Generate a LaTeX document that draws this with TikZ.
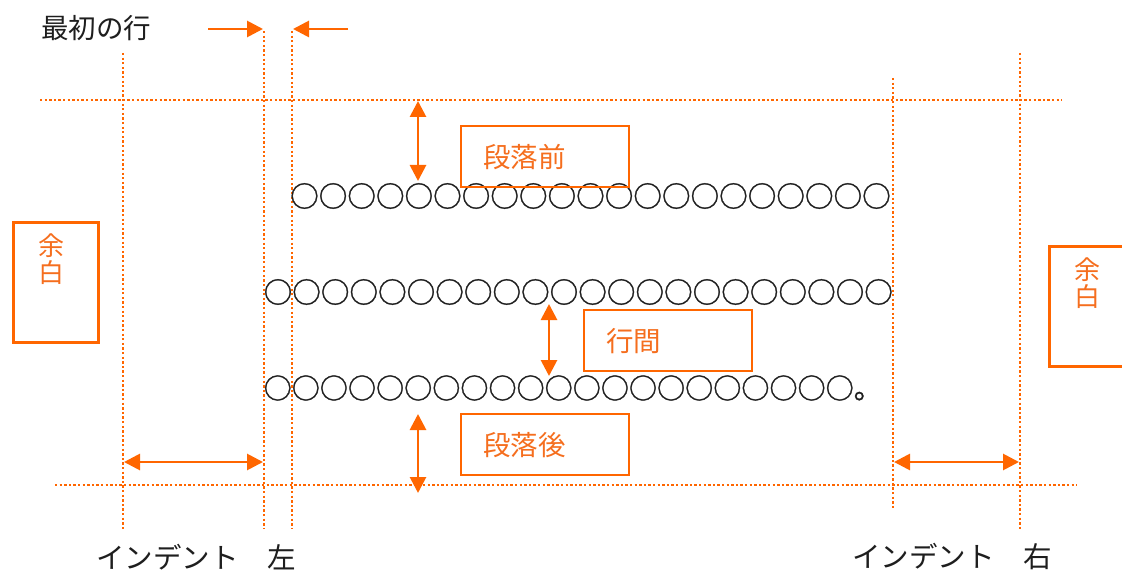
\documentclass[tikz,border=0pt]{standalone}
\usepackage{fontspec}
\newfontfamily\jp{Noto Sans CJK JP}
\newfontfamily\jpc[FakeBold=1.2]{Noto Sans CJK JP}
\usetikzlibrary{arrows.meta}
\definecolor{org}{RGB}{255,102,0}
\definecolor{orgtxt}{RGB}{245,110,30}
\definecolor{ink}{RGB}{30,30,30}
\begin{document}
\begin{tikzpicture}[x=1pt,y=-1pt,
  guide/.style={draw=org, line width=2.5pt, dash pattern=on 2.3pt off 2.3pt},
  dimarrow/.style={draw=org, line width=2.8pt, {Triangle[length=16pt,width=16pt]}-{Triangle[length=16pt,width=16pt]}},
  onearrow/.style={draw=org, line width=2.8pt, -{Triangle[length=16pt,width=16pt]}},
  tagbox/.style={draw=org, line width=2.2pt, anchor=north west, inner xsep=22pt, inner ysep=0pt,
     text width=124pt, minimum height=61pt, align=left, text=orgtxt,
     font=\jp\fontsize{27.5pt}{30pt}\selectfont},
  marginbox/.style={draw=org, line width=2.6pt, anchor=north west, inner sep=0pt},
  margintext/.style={text=orgtxt, align=center, inner sep=0pt, font=\jp\fontsize{26pt}{27pt}\selectfont},
  blacktext/.style={text=ink, inner sep=0pt, font=\jp\fontsize{27.5pt}{30pt}\selectfont},
  circrow/.style={text=ink, inner sep=0pt, anchor=west, font=\jpc\fontsize{28.6pt}{30pt}\selectfont},
]
\useasboundingbox (0,0) rectangle (1122,572);

% guide coordinates
\coordinate (v1t) at (123,53);   \coordinate (v1b) at (123,530);
\coordinate (v2t) at (264,31);   \coordinate (v2b) at (264,528);
\coordinate (v3t) at (292,31);   \coordinate (v3b) at (292,528);
\coordinate (v4t) at (893,78);   \coordinate (v4b) at (893,509);
\coordinate (v5t) at (1020,53);  \coordinate (v5b) at (1020,530);
\coordinate (h1l) at (40,100);   \coordinate (h1r) at (1062,100);
\coordinate (h2l) at (55,485);   \coordinate (h2r) at (1077,485);

\draw[guide] (v1t) -- (v1b);
\draw[guide] (v2t) -- (v2b);
\draw[guide] (v3t) -- (v3b);
\draw[guide] (v4t) -- (v4b);
\draw[guide] (v5t) -- (v5b);
\draw[guide] (h1l) -- (h1r);
\draw[guide] (h2l) -- (h2r);

% first line label and arrows
\node[blacktext, anchor=west] (first) at (41,28) {最初の行};
\coordinate (fa1s) at (208,29); \coordinate (fa1e) at (263,29);
\coordinate (fa2s) at (348,29); \coordinate (fa2e) at (293,29);
\draw[onearrow] (fa1s) -- (fa1e);
\draw[onearrow] (fa2s) -- (fa2e);

% text rows
\node[circrow] (row1) at (290,196) {○○○○○○○○○○○○○○○○○○○○○};
\node[circrow] (row2) at (263.5,292) {○○○○○○○○○○○○○○○○○○○○○○};
\node[circrow, font=\jpc\fontsize{28.1pt}{30pt}\selectfont] (row3) at (263.5,388) {○○○○○○○○○○○○○○○○○○○○○。};

% label boxes
\node[tagbox] (before) at (460,125) {段落前};
\node[tagbox] (between) at (583,309) {行間};
\node[tagbox] (after) at (460,413) {段落後};

% vertical dimension arrows
\coordinate (ba1) at (418,101); \coordinate (ba2) at (418,181);
\draw[dimarrow] (ba1) -- (ba2);
\coordinate (la1) at (549,304); \coordinate (la2) at (549,376);
\draw[dimarrow] (la1) -- (la2);
\coordinate (aa1) at (418,414); \coordinate (aa2) at (418,493);
\draw[dimarrow] (aa1) -- (aa2);

% indent arrows
\coordinate (il1) at (124,462); \coordinate (il2) at (263,462);
\draw[dimarrow] (il1) -- (il2);
\coordinate (ir1) at (894,462); \coordinate (ir2) at (1019,462);
\draw[dimarrow] (ir1) -- (ir2);

% margin boxes
\node[marginbox, minimum width=85pt, minimum height=120pt] (mleft) at (12,221) {};
\node[margintext, anchor=north] (mlefttxt) at (51,234) {余\\白};
\node[marginbox, minimum width=80pt, minimum height=120pt] (mright) at (1048,245) {};
\node[margintext, anchor=north] (mrighttxt) at (1087,258) {余\\白};

% bottom labels
\node[blacktext, anchor=west, font=\jp\fontsize{28.5pt}{30pt}\selectfont] (indl) at (96,557) {インデント　左};
\node[blacktext, anchor=west, font=\jp\fontsize{28.5pt}{30pt}\selectfont] (indr) at (852,557) {インデント　右};
\end{tikzpicture}
\end{document}
